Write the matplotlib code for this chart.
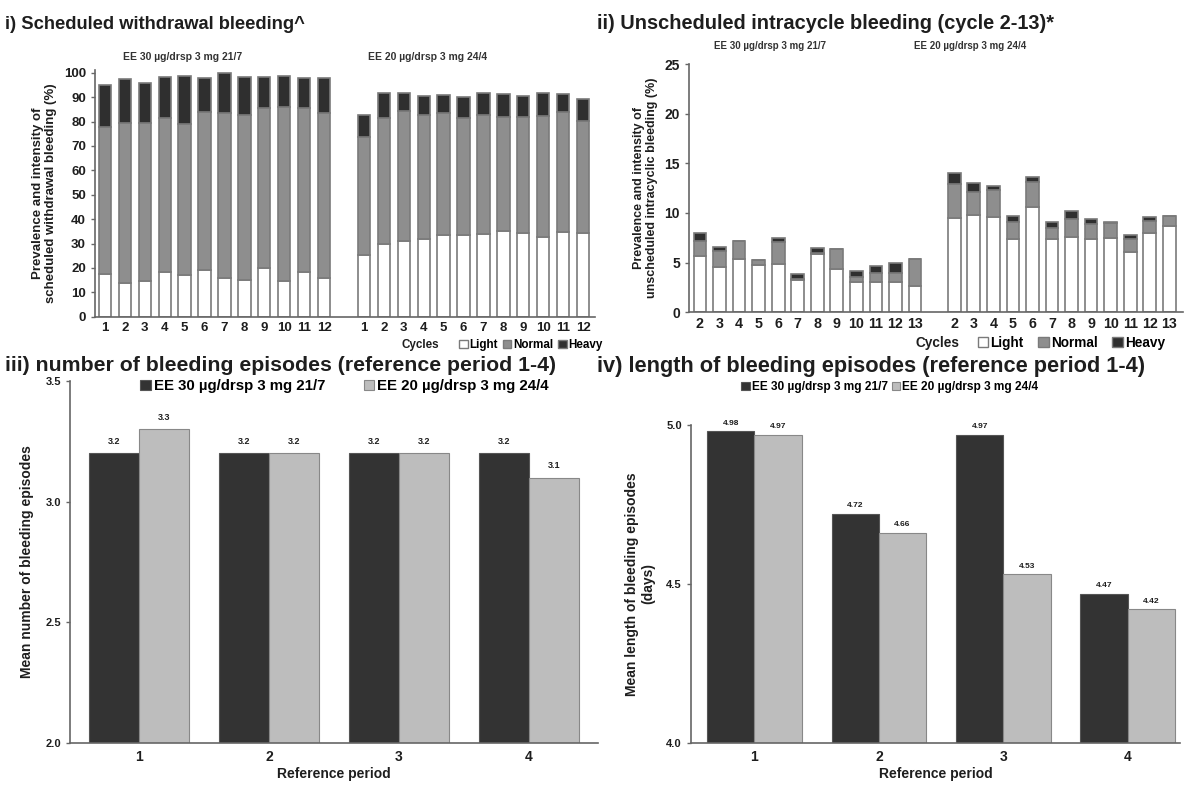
import matplotlib
matplotlib.use("Agg")
import matplotlib.pyplot as plt
from matplotlib.patches import Patch
import numpy as np

plt.rcParams['font.family'] = ['Liberation Sans', 'DejaVu Sans']
plt.rcParams['font.weight'] = 'bold'

W, H = 1187, 785

# ---------------- data ----------------
cycles_i = [str(c) for c in range(1, 13)]
sched_30_light = [17.5, 13.7, 14.8, 18.4, 17.0, 19.1, 16.0, 15.0, 19.8, 14.8, 18.4, 16.0]
sched_30_normal = [60.4, 65.5, 64.4, 63.2, 62.0, 64.8, 67.6, 67.7, 65.6, 71.0, 67.0, 67.6]
sched_30_heavy = [17.1, 18.1, 16.7, 16.8, 19.6, 14.1, 16.4, 15.7, 13.0, 12.8, 12.6, 14.1]
sched_20_light = [25.3, 29.8, 31.1, 31.8, 33.5, 33.5, 33.7, 35.1, 34.4, 32.8, 34.8, 34.4]
sched_20_normal = [48.5, 51.5, 53.2, 51.0, 50.1, 47.9, 49.1, 46.6, 47.3, 49.6, 49.1, 45.9]
sched_20_heavy = [8.9, 10.5, 7.5, 7.8, 7.2, 8.8, 9.0, 9.4, 8.7, 9.1, 7.3, 8.8]

cycles_ii = [str(c) for c in range(2, 14)]
unsch_30_light = [5.68, 4.56, 5.40, 4.73, 4.90, 3.28, 5.90, 4.39, 3.04, 3.04, 3.04, 2.60]
unsch_30_normal = [1.48, 1.59, 1.80, 0.51, 2.20, 0.07, 0.10, 2.00, 0.47, 0.88, 0.95, 2.77]
unsch_30_heavy = [0.78, 0.40, 0.00, 0.00, 0.40, 0.47, 0.45, 0.00, 0.61, 0.74, 1.01, 0.00]
unsch_20_light = [9.46, 9.80, 9.63, 7.36, 10.64, 7.36, 7.60, 7.40, 7.50, 6.08, 7.94, 8.72]
unsch_20_normal = [3.44, 2.36, 2.70, 1.76, 2.43, 1.09, 1.76, 1.45, 1.45, 1.28, 1.25, 0.98]
unsch_20_heavy = [1.10, 0.84, 0.41, 0.58, 0.53, 0.60, 0.88, 0.51, 0.17, 0.41, 0.44, 0.00]

periods = ['1', '2', '3', '4']
episodes_30 = [3.2, 3.2, 3.2, 3.2]
episodes_20 = [3.3, 3.2, 3.2, 3.1]
length_30 = [4.98, 4.72, 4.97, 4.47]
length_20 = [4.97, 4.66, 4.53, 4.42]

group_30 = 'EE 30 µg/drsp 3 mg 21/7'
group_20 = 'EE 20 µg/drsp 3 mg 24/4'
intensity_labels = ['Light', 'Normal', 'Heavy']

# ---------------- styles ----------------
C_LIGHT = 'white'
C_NORMAL = '#8e8e8e'
C_HEAVY = '#2f2f2f'
C_EDGE = '#7a7a7a'
C_DARKBAR = '#333333'
C_GREYBAR = '#bdbdbd'
SPINE = '#666666'
TXT = '#1e1e1e'

fig = plt.figure(figsize=(W / 100, H / 100), dpi=100)


def rect(l, t, r, b):
    return [l / W, 1 - b / H, (r - l) / W, (b - t) / H]


def ftext(x, y, s, **kw):
    fig.text(x / W, 1 - y / H, s, **kw)


def style_axes(ax, fs):
    for s in ['top', 'right']:
        ax.spines[s].set_visible(False)
    for s in ['left', 'bottom']:
        ax.spines[s].set_color(SPINE)
        ax.spines[s].set_linewidth(1.2)
    ax.tick_params(axis='both', colors=SPINE, labelcolor=TXT, labelsize=fs, width=1, length=3)
    ax.tick_params(axis='x', length=0)


def stacked_panel(ax, labels, l30, n30, h30, l20, n20, h20, width):
    n = len(labels)
    pos = list(range(n)) + list(range(n + 1, 2 * n + 1))
    light = list(l30) + list(l20)
    normal = list(n30) + list(n20)
    heavy = list(h30) + list(h20)
    bottom2 = [a + b for a, b in zip(light, normal)]
    kw = dict(width=width, edgecolor=C_EDGE, linewidth=1.2)
    ax.bar(pos, light, color=C_LIGHT, **kw)
    ax.bar(pos, normal, bottom=light, color=C_NORMAL, **kw)
    ax.bar(pos, heavy, bottom=bottom2, color=C_HEAVY, **kw)
    ax.set_xticks(pos)
    ax.set_xticklabels(list(labels) + list(labels))


handles = [Patch(facecolor=C_LIGHT, edgecolor=C_EDGE), Patch(facecolor=C_NORMAL, edgecolor=C_EDGE),
           Patch(facecolor=C_HEAVY, edgecolor=C_EDGE)]


def cycles_legend(xc, xl, y, fs, colsp):
    ftext(xc, y, 'Cycles', fontsize=fs, ha='center', va='center', color=TXT)
    fig.legend(handles, intensity_labels, loc='center left', bbox_to_anchor=(xl / W, 1 - y / H),
               ncol=3, frameon=False, fontsize=fs, handlelength=0.75, handleheight=0.75,
               handletextpad=0.15, columnspacing=colsp, borderpad=0, borderaxespad=0)


# ---------------- panel i ----------------
ftext(5, 29, 'i) Scheduled withdrawal bleeding^', fontsize=13.2, fontweight='bold', ha='left',
      va='baseline', color=TXT)
ax1 = fig.add_axes(rect(95, 70.3, 595, 316.7))
stacked_panel(ax1, cycles_i, sched_30_light, sched_30_normal, sched_30_heavy,
              sched_20_light, sched_20_normal, sched_20_heavy, 0.62)
ax1.set_xlim(-0.5, 24.6)
ax1.set_ylim(0, 101)
ax1.set_yticks(range(0, 101, 10))
style_axes(ax1, 9.5)
ax1.set_ylabel('Prevalence and intensity of\nscheduled withdrawal bleeding (%)', fontsize=9.5,
               fontweight='bold', color=TXT, labelpad=5, linespacing=1.1)
ftext(183, 57, group_30, fontsize=7.5, ha='center', va='center', color='#333333')
ftext(428, 57, group_20, fontsize=7.5, ha='center', va='center', color='#333333')
cycles_legend(420, 459, 345, 8.4, 0.4)

# ---------------- panel ii ----------------
ftext(597, 29, 'ii) Unscheduled intracycle bleeding (cycle 2-13)*', fontsize=14.4, fontweight='bold',
      ha='left', va='baseline', color=TXT)
ax2 = fig.add_axes(rect(689, 64, 1183, 312.3))
stacked_panel(ax2, cycles_ii, unsch_30_light, unsch_30_normal, unsch_30_heavy,
              unsch_20_light, unsch_20_normal, unsch_20_heavy, 0.65)
ax2.set_xlim(-0.56, 24.7)
ax2.set_ylim(0, 25)
ax2.set_yticks(range(0, 26, 5))
style_axes(ax2, 10)
ax2.tick_params(axis='x', labelsize=10.3)
ax2.set_ylabel('Prevalence and intensity of\nunscheduled intracyclic bleeding (%)', fontsize=9,
               fontweight='bold', color=TXT, labelpad=5, linespacing=1.1)
ftext(770, 46, group_30, fontsize=7, ha='center', va='center', color='#333333')
ftext(970, 46, group_20, fontsize=7, ha='center', va='center', color='#333333')
cycles_legend(937, 978, 343, 9.8, 1.1)

# ---------------- panel iii ----------------
ftext(5, 371, 'iii) number of bleeding episodes (reference period 1-4)', fontsize=15.3,
      fontweight='bold', ha='left', va='baseline', color=TXT)
ax3 = fig.add_axes(rect(70, 381, 598, 743))
x = np.arange(len(periods))
bw = 0.385
b30 = ax3.bar(x - bw / 2, episodes_30, width=bw, color=C_DARKBAR, edgecolor='#555555', linewidth=0.8,
              label=group_30)
b20 = ax3.bar(x + bw / 2, episodes_20, width=bw, color=C_GREYBAR, edgecolor='#888888', linewidth=0.8,
              label=group_20)
for bars, vals in [(b30, episodes_30), (b20, episodes_20)]:
    for rct, v in zip(bars, vals):
        ax3.text(rct.get_x() + rct.get_width() / 2, v + 0.03, f'{v:.1f}', ha='center', va='bottom',
                 fontsize=6.5, color=TXT)
ax3.set_xlim(-0.53, 3.53)
ax3.set_ylim(2.0, 3.5)
ax3.set_yticks([2.0, 2.5, 3.0, 3.5])
ax3.set_yticklabels(['2.0', '2.5', '3.0', '3.5'])
ax3.set_xticks(x)
ax3.set_xticklabels(periods)
style_axes(ax3, 8)
ax3.tick_params(axis='x', labelsize=10, pad=5)
ax3.set_ylabel('Mean number of bleeding episodes', fontsize=10, fontweight='bold', color=TXT, labelpad=8)
ax3.set_xlabel('Reference period', fontsize=10, fontweight='bold', color=TXT, labelpad=2)
ax3.legend(loc='center', bbox_to_anchor=(0.52, 0.985), ncol=2, frameon=False, fontsize=10.8,
           handlelength=0.7, handleheight=0.7, handletextpad=0.2, columnspacing=2.6, borderaxespad=0,
           borderpad=0)

# ---------------- panel iv ----------------
ftext(597, 372, 'iv) length of bleeding episodes (reference period 1-4)', fontsize=15.7,
      fontweight='bold', ha='left', va='baseline', color=TXT)
ax4 = fig.add_axes(rect(691, 425, 1180, 743))
bw4 = 0.38
c30 = ax4.bar(x - bw4 / 2, length_30, width=bw4, color=C_DARKBAR, edgecolor='#555555', linewidth=0.8,
              label=group_30)
c20 = ax4.bar(x + bw4 / 2, length_20, width=bw4, color=C_GREYBAR, edgecolor='#888888', linewidth=0.8,
              label=group_20)
for bars, vals in [(c30, length_30), (c20, length_20)]:
    for rct, v in zip(bars, vals):
        ax4.text(rct.get_x() + rct.get_width() / 2, v + 0.015, f'{v:.2f}', ha='center', va='bottom',
                 fontsize=6, color=TXT)
ax4.set_xlim(-0.51, 3.42)
ax4.set_ylim(4.0, 5.0)
ax4.set_yticks([4.0, 4.5, 5.0])
ax4.set_yticklabels(['4.0', '4.5', '5.0'])
ax4.set_xticks(x)
ax4.set_xticklabels(periods)
style_axes(ax4, 8)
ax4.tick_params(axis='x', labelsize=10, pad=5)
ax4.set_ylabel('Mean length of bleeding episodes\n(days)', fontsize=10, fontweight='bold', color=TXT,
               labelpad=8)
ax4.set_xlabel('Reference period', fontsize=10, fontweight='bold', color=TXT, labelpad=2)
fig.legend([c30, c20], [group_30, group_20], loc='center', bbox_to_anchor=(890 / W, 1 - 387 / H), ncol=2,
           frameon=False, fontsize=8.6, handlelength=0.7, handleheight=0.7, handletextpad=0.2,
           columnspacing=0.3, borderpad=0, borderaxespad=0)

fig.savefig('out.png', dpi=100, facecolor='white')
